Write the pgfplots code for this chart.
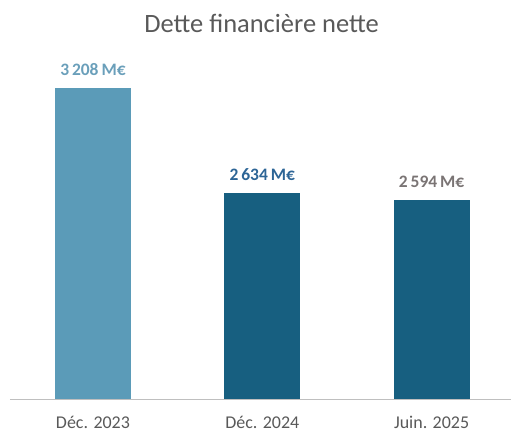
\documentclass[border=0pt]{standalone}
\usepackage{fontspec}
\setmainfont{Carlito}
\usepackage{pgfplots}
\pgfplotsset{compat=1.18}
\definecolor{barlight}{HTML}{5B9BB8}
\definecolor{bardark}{HTML}{175F80}
\definecolor{lbllight}{HTML}{6A9FBA}
\definecolor{lbldark}{HTML}{2D6596}
\definecolor{lblgray}{HTML}{7A7474}
\definecolor{txtgray}{HTML}{595959}
\definecolor{axgray}{HTML}{BFBFBF}
\begin{document}
\begin{tikzpicture}
\begin{axis}[
  at={(0pt,0pt)}, anchor=south west,
  scale only axis,
  width=502pt, height=360pt,
  ybar, bar width=76pt, bar shift=0pt,
  xmin=-0.49, xmax=2.47,
  ymin=1502, ymax=3470,
  xtick={0,1,2},
  xticklabels={Déc. 2023,Déc. 2024,Juin. 2025},
  ticklabel style={font=\fontsize{18}{18}\selectfont, text=txtgray},
  xticklabel style={yshift=-13pt},
  major tick length=0pt,
  ytick=\empty,
  axis y line=none,
  axis x line*=bottom,
  x axis line style={draw=axgray, line width=1.6pt, -},
  /pgf/number format/assume math mode=true,
  nodes near coords={\pgfmathprintnumber[1000 sep={\,}]{\pgfplotspointmeta}\,M€},
  nodes near coords style={font=\bfseries\fontsize{17.5}{17.5}\selectfont, yshift=8.5pt},
  clip=false,
]
\addplot[fill=barlight, draw=none, nodes near coords style={text=lbllight}] coordinates {(0,3208)};
\addplot[fill=bardark, draw=none, nodes near coords style={text=lbldark}] coordinates {(1,2634)};
\addplot[fill=bardark, draw=none, nodes near coords style={text=lblgray}] coordinates {(2,2594)};
\end{axis}
\node[font=\fontsize{26.5}{26.5}\selectfont, text=txtgray] at (252pt,377pt) {Dette financière nette};
\useasboundingbox (-10pt,-32pt) rectangle (502pt,400pt);
\end{tikzpicture}
\end{document}
